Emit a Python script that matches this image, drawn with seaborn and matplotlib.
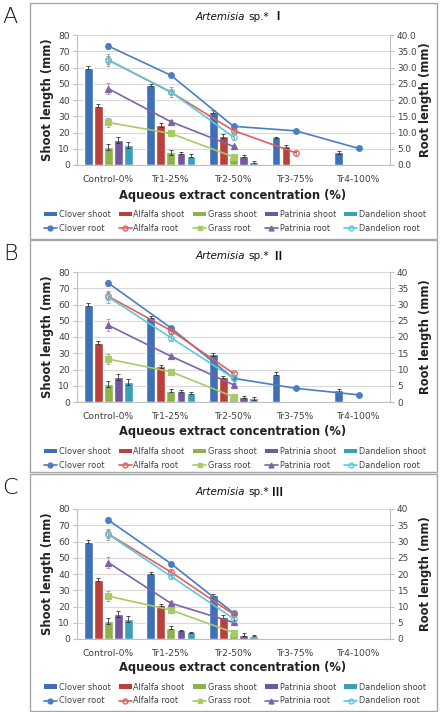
import matplotlib
matplotlib.use('Agg')
import matplotlib.pyplot as plt
import numpy as np
import pandas as pd
import seaborn as sns
from matplotlib.patches import Rectangle, Patch
from matplotlib.lines import Line2D
import matplotlib.ticker as mticker

sns.set_style('white')
plt.rcParams['font.family'] = ['DejaVu Sans', 'Noto Sans CJK SC']

nan = np.nan
categories = ['Control-0%', 'Tr1-25%', 'Tr2-50%', 'Tr3-75%', 'Tr4-100%']
species = ['Clover', 'Alfalfa', 'Grass', 'Patrinia', 'Dandelion']

# shoot length (mm): one row per species, one column per category
shoot_A = [[60.0, 49.3, 32.8, 17.0, 7.8],
           [36.5, 24.6, 18.0, 11.5, nan],
           [11.0, 7.8, 5.0, nan, nan],
           [15.3, 7.3, 5.5, nan, nan],
           [12.2, 5.8, 2.0, nan, nan]]
shoot_err_A = [[1.2, 0.8, 0.8, 0.5, 0.8],
               [1.0, 1.0, 1.2, 1.0, nan],
               [2.0, 1.5, 1.5, nan, nan],
               [2.0, 0.8, 0.8, nan, nan],
               [2.0, 0.7, 0.5, nan, nan]]
root_A = [[36.6, 27.6, 11.9, 10.5, 5.1],
          [32.3, 22.4, 10.6, 3.7, nan],
          [13.1, 9.7, 2.5, nan, nan],
          [23.5, 13.3, 5.7, nan, nan],
          [32.3, 22.5, 8.6, nan, nan]]
root_err_A = [[0.8, 0.4, 0.4, 0.3, 0.3],
              [1.2, 0.5, 0.5, 0.5, nan],
              [1.5, 0.5, 0.3, nan, nan],
              [1.8, 0.6, 0.3, nan, nan],
              [1.8, 1.5, 0.8, nan, nan]]

shoot_B = [[60.0, 52.2, 29.3, 17.5, 7.2],
           [36.5, 22.0, 15.5, nan, nan],
           [11.0, 7.0, 4.0, nan, nan],
           [15.3, 7.0, 3.0, nan, nan],
           [12.2, 5.5, 2.3, nan, nan]]
shoot_err_B = [[1.2, 0.8, 1.0, 0.8, 0.8],
               [1.0, 0.8, 0.8, nan, nan],
               [2.0, 0.8, 1.0, nan, nan],
               [2.0, 0.6, 0.5, nan, nan],
               [2.0, 0.8, 0.8, nan, nan]]
root_B = [[36.6, 22.8, 7.3, 4.2, 2.2],
          [32.5, 22.0, 8.8, nan, nan],
          [13.2, 9.3, 1.6, nan, nan],
          [23.6, 14.1, 5.3, nan, nan],
          [32.3, 19.8, 7.3, nan, nan]]
root_err_B = [[0.8, 0.5, 0.4, 0.3, 0.3],
              [1.2, 1.0, 0.5, nan, nan],
              [1.5, 0.6, 0.3, nan, nan],
              [1.8, 0.4, 0.4, nan, nan],
              [1.8, 1.0, 0.6, nan, nan]]

shoot_C = [[60.0, 40.5, 27.2, nan, nan],
           [36.5, 21.0, 13.8, nan, nan],
           [11.0, 7.0, 4.0, nan, nan],
           [15.3, 5.3, 2.6, nan, nan],
           [12.2, 4.2, 2.1, nan, nan]]
shoot_err_C = [[1.2, 0.6, 0.8, nan, nan],
               [1.0, 0.8, 0.8, nan, nan],
               [2.0, 0.8, 0.6, nan, nan],
               [2.0, 0.5, 1.0, nan, nan],
               [2.0, 0.4, 0.4, nan, nan]]
root_C = [[36.6, 23.2, 8.0, nan, nan],
          [32.3, 20.6, 7.6, nan, nan],
          [13.2, 8.9, 2.0, nan, nan],
          [23.5, 11.0, 5.1, nan, nan],
          [32.2, 19.3, 6.3, nan, nan]]
root_err_C = [[0.8, 0.4, 0.4, nan, nan],
              [1.2, 0.8, 0.5, nan, nan],
              [1.5, 0.4, 0.3, nan, nan],
              [1.8, 0.8, 0.4, nan, nan],
              [1.8, 0.8, 0.5, nan, nan]]

bar_colors = ['#3f6fb5', '#bb3f3b', '#8db24c', '#71579c', '#3b9fba']
line_colors = ['#4a7ec4', '#e0605c', '#a8cc63', '#7e63aa', '#5cc8dc']
markers = ['o', 'o', 's', '^', 'o']
hollow = [False, True, False, False, True]

W, H = 444, 712
fig = plt.figure(figsize=(W / 100, H / 100), dpi=100)
grey = '#bfbfbf'
txt = '#404040'


def draw_panel(letter, numeral, shoot, shoot_err, root, root_err, box, top, title_y,
               xlab_y, leg_y, right_fmt):
    bottom = top + 130
    ax = fig.add_axes([77 / W, 1 - bottom / H, 313 / W, 130 / H])
    rows = []
    for s, vals in zip(species, shoot):
        for c, v in zip(categories, vals):
            if not np.isnan(v):
                rows.append({'category': c, 'species': s, 'shoot': v})
    df = pd.DataFrame(rows)
    sns.barplot(data=df, x='category', y='shoot', hue='species', order=categories,
                hue_order=species, palette=bar_colors, width=0.8, gap=0.12,
                errorbar=None, saturation=1, legend=False, ax=ax)
    bar_conts = list(ax.containers)
    for i, cont in enumerate(bar_conts):
        for bar in cont:
            xc = bar.get_x() + bar.get_width() / 2
            j = int(round(xc))
            ax.errorbar(xc, bar.get_height(), yerr=shoot_err[i][j], fmt='none',
                        ecolor='#333333', elinewidth=0.6, capsize=1.5, capthick=0.6)
    ax.set_ylim(0, 80)
    ax.set_yticks(range(0, 81, 10))
    ax.yaxis.grid(True, color='#d9d9d9', lw=0.8)
    ax.set_axisbelow(True)
    ax.set_xlabel('')
    ax.set_ylabel('Shoot length (mm)', fontsize=8.3, fontweight='bold', color='#222222')
    ax.yaxis.set_label_coords(-0.073, 0.5)
    ax.tick_params(axis='y', length=3, color=grey, labelsize=6.6, labelcolor=txt, pad=2)
    ax.tick_params(axis='x', which='major', length=0, labelsize=6.6, labelcolor=txt, pad=7)
    ax.xaxis.set_minor_locator(mticker.FixedLocator([0.5, 1.5, 2.5, 3.5]))
    ax.tick_params(axis='x', which='minor', length=3, color=grey)
    for sp in ['left', 'bottom']:
        ax.spines[sp].set_color(grey)
    ax.spines['top'].set_visible(False)
    ax.spines['right'].set_visible(False)

    ax2 = ax.twinx()
    xs = np.arange(len(categories))
    for i, s in enumerate(species):
        y = np.array(root[i], dtype=float)
        e = np.array(root_err[i], dtype=float)
        m = ~np.isnan(y)
        ax2.errorbar(xs[m], y[m], yerr=e[m], fmt='none', ecolor='#999999',
                     elinewidth=0.6, capsize=1.5, capthick=0.6, zorder=2)
        sns.lineplot(x=xs[m], y=y[m], ax=ax2, color=line_colors[i], lw=1.2,
                     marker=markers[i], markersize=4,
                     markerfacecolor='none' if hollow[i] else line_colors[i],
                     markeredgecolor=line_colors[i], markeredgewidth=0.9, zorder=3)
    ax2.set_xlim(-0.5, 4.5)
    ax.set_xlim(-0.5, 4.5)
    ax2.set_ylim(0, 40)
    ax2.set_yticks(range(0, 41, 5))
    ax2.yaxis.set_major_formatter(mticker.FormatStrFormatter(right_fmt))
    ax2.set_ylabel('Root length (mm)', fontsize=8.3, fontweight='bold', color='#222222')
    ax2.yaxis.set_label_coords(1.092, 0.5)
    ax2.tick_params(axis='y', length=3, color=grey, labelsize=6.4, labelcolor=txt, pad=2)
    ax2.spines['right'].set_color(grey)
    for sp in ['left', 'bottom', 'top']:
        ax2.spines[sp].set_visible(False)

    fig.add_artist(Rectangle((30 / W, 1 - box[1] / H), 407 / W, (box[1] - box[0]) / H,
                             transform=fig.transFigure, fill=False, ec='#a6a6a6', lw=1))
    fig.text(10 / W, 1 - (box[0] + 14) / H, letter, fontsize=16, ha='center', va='center',
             color='#111111', fontweight='light')
    ty = 1 - title_y / H
    fig.text(245 / W, ty, 'Artemisia', fontsize=7.5, fontstyle='italic', ha='right',
             va='center', color='#111111')
    fig.text(248 / W, ty, 'sp.*', fontsize=7.5, ha='left', va='center', color='#111111')
    fig.text(272 / W, ty, numeral, fontsize=8, ha='left', va='center', color='#111111',
             family=['Noto Sans CJK SC', 'DejaVu Sans'], fontweight='bold')
    fig.text(233 / W, 1 - xlab_y / H, 'Aqueous extract concentration (%)', fontsize=8.3,
             fontweight='bold', ha='center', va='center', color='#222222')

    handles = []
    for i, s in enumerate(species):
        handles.append(Patch(facecolor=bar_colors[i], edgecolor='none', label=s + ' shoot'))
        handles.append(Line2D([], [], color=line_colors[i], lw=1.2, marker=markers[i],
                              markersize=3.5,
                              markerfacecolor='none' if hollow[i] else line_colors[i],
                              markeredgecolor=line_colors[i], label=s + ' root'))
    fig.legend(handles=handles, ncol=5, loc='center', frameon=False,
               bbox_to_anchor=(235 / W, 1 - leg_y / H), fontsize=5.9, handlelength=1.6,
               handleheight=0.5, handletextpad=0.2, columnspacing=1.0, labelspacing=0.6,
               labelcolor=txt)


draw_panel('A', 'Ⅰ', shoot_A, shoot_err_A, root_A, root_err_A, (3, 239), 35, 17, 195,
           221.5, '%.1f')
draw_panel('B', 'Ⅱ', shoot_B, shoot_err_B, root_B, root_err_B, (240, 472), 272, 256, 432,
           458.5, '%d')
draw_panel('C', 'Ⅲ', shoot_C, shoot_err_C, root_C, root_err_C, (474, 711), 509, 492, 668,
           694, '%d')

fig.savefig('out.png', dpi=100)
